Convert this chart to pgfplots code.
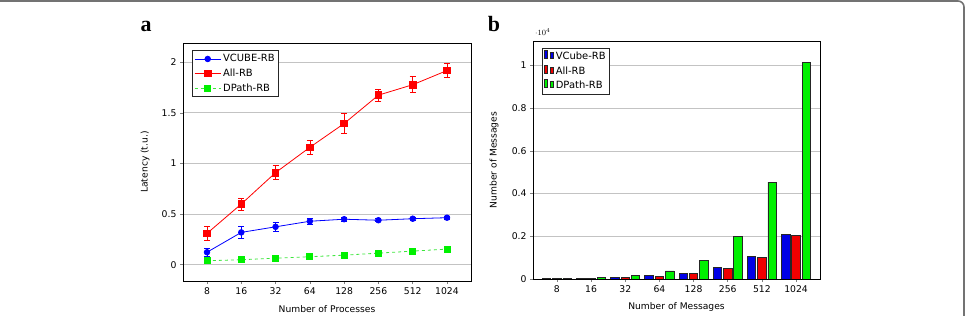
\documentclass[border=0pt]{standalone}
\usepackage{pgfplots}
\pgfplotsset{compat=1.18}
\usepackage{fontspec}
\setmainfont{DejaVu Sans}
\newfontfamily\serifb{Liberation Serif}
\definecolor{gridgray}{RGB}{195,195,195}
\definecolor{bblue}{RGB}{0,0,230}
\definecolor{bred}{RGB}{240,0,0}
\definecolor{bgreen}{RGB}{0,240,0}
\definecolor{lgreen}{RGB}{60,230,60}
\pgfplotsset{
  myax/.style={
    scale only axis, width=288bp, height=238bp,
    xmin=-0.7, xmax=7.7,
    xtick={0,...,7}, xticklabels={8,16,32,64,128,256,512,1024},
    ymajorgrids, grid style={gridgray, line width=0.8bp},
    tick align=outside, tick pos=left, major tick length=3bp,
    tick style={gray, line width=0.6bp},
    tick label style={font=\fontsize{9.3}{11}\selectfont},
    label style={font=\fontsize{9.2}{11}\selectfont},
    /pgf/number format/assume math mode=true,
    axis line style={line width=0.9bp},
    legend cell align=left,
    legend style={font=\fontsize{10}{12}\selectfont, draw=black!85, line width=0.8bp,
      anchor=north west, inner sep=2bp, row sep=1.5bp},
  }
}
\begin{document}
\begin{tikzpicture}[x=1bp,y=1bp]
\path[use as bounding box] (0bp,0bp) rectangle (970bp,316bp);
\begin{scope}
\clip (0bp,0bp) rectangle (970bp,316bp);
\draw[line width=1.6bp, color=black!55, rounded corners=6bp] (-10bp,-20bp) rectangle (964bp,315bp);
\end{scope}
\node[font=\serifb\bfseries\fontsize{22}{22}\selectfont, anchor=base] at (146bp,284bp) {a};
\node[font=\serifb\bfseries\fontsize{22}{22}\selectfont, anchor=base] at (494bp,284bp) {b};

\begin{axis}[myax, at={(183bp,35bp)}, anchor=south west,
  ymin=-0.16, ymax=2.19, ytick={0,0.5,1,1.5,2},
  xlabel={Number of Processes}, ylabel={Latency (t.u.)},
  xlabel style={at={(axis description cs:0.5,-0.118)}, anchor=center},
  ylabel style={at={(axis description cs:-0.132,0.5)}, anchor=center},
  legend style={at={(0.031,0.97)}},
  legend image code/.code={\draw[mark repeat=2, mark phase=2, #1] plot coordinates {(0bp,0bp) (13bp,0bp) (26bp,0bp)};},
]
\addplot[blue, mark=*, mark size=2.8bp, line width=0.8bp,
  error bars/.cd, y dir=both, y explicit,
  error bar style={line width=0.7bp},
  error mark options={rotate=90, mark size=3bp, line width=0.7bp}]
  table[x=x, y=y, y error=e] {
x y e
0 0.124 0.04
1 0.32 0.06
2 0.375 0.045
3 0.43 0.03
4 0.45 0.02
5 0.44 0.015
6 0.455 0.015
7 0.465 0.015
};
\addlegendentry{VCUBE-RB}
\addplot[red, mark=square*, mark size=3.3bp, line width=0.8bp,
  error bars/.cd, y dir=both, y explicit,
  error bar style={line width=0.7bp},
  error mark options={rotate=90, mark size=3bp, line width=0.7bp}]
  table[x=x, y=y, y error=e] {
x y e
0 0.31 0.07
1 0.60 0.06
2 0.91 0.07
3 1.16 0.07
4 1.395 0.10
5 1.675 0.06
6 1.778 0.08
7 1.918 0.07
};
\addlegendentry{All-RB}
\addplot[lgreen, dashed, mark=square*, mark size=3bp, mark options={solid, fill=bgreen, draw=bgreen}, line width=0.8bp,
  error bars/.cd, y dir=both, y explicit,
  error bar style={line width=0.7bp, solid},
  error mark options={rotate=90, mark size=2bp, line width=0.7bp}]
  table[x=x, y=y, y error=e] {
x y e
0 0.04 0.01
1 0.05 0.01
2 0.065 0.01
3 0.08 0.01
4 0.095 0.01
5 0.115 0.01
6 0.135 0.01
7 0.155 0.01
};
\addlegendentry{DPath-RB}
\end{axis}

\begin{axis}[myax, at={(533bp,37bp)}, anchor=south west, width=287bp,
  ybar=1.8bp, bar width=8.5bp,
  ymin=0, ymax=11150, ytick={0,2000,4000,6000,8000,10000},
  scaled y ticks=manual:{$\cdot 10^{4}$}{\pgfmathparse{#1/10000}},
  every y tick scale label/.style={at={(axis description cs:0,1)}, anchor=south west, inner sep=0bp, xshift=2bp, yshift=5bp, font=\fontsize{8.5}{9}\selectfont},
  xlabel={Number of Messages}, ylabel={Number of Messages},
  xlabel style={at={(axis description cs:0.5,-0.116)}, anchor=center},
  ylabel style={at={(axis description cs:-0.136,0.5)}, anchor=center},
  legend style={at={(0.03,0.972)}},
]
\addplot[fill=bblue, draw=black!85, line width=0.8bp] coordinates {
(0,16) (1,35) (2,70) (3,155) (4,280) (5,548) (6,1077) (7,2075)};
\addlegendentry{VCube-RB}
\addplot[fill=bred, draw=black!85, line width=0.8bp] coordinates {
(0,15) (1,32) (2,65) (3,140) (4,270) (5,515) (6,1016) (7,2030)};
\addlegendentry{All-RB}
\addplot[fill=bgreen, draw=black!85, line width=0.8bp] coordinates {
(0,25) (1,70) (2,170) (3,375) (4,875) (5,2010) (6,4540) (7,10150)};
\addlegendentry{DPath-RB}
\end{axis}
\end{tikzpicture}
\end{document}
